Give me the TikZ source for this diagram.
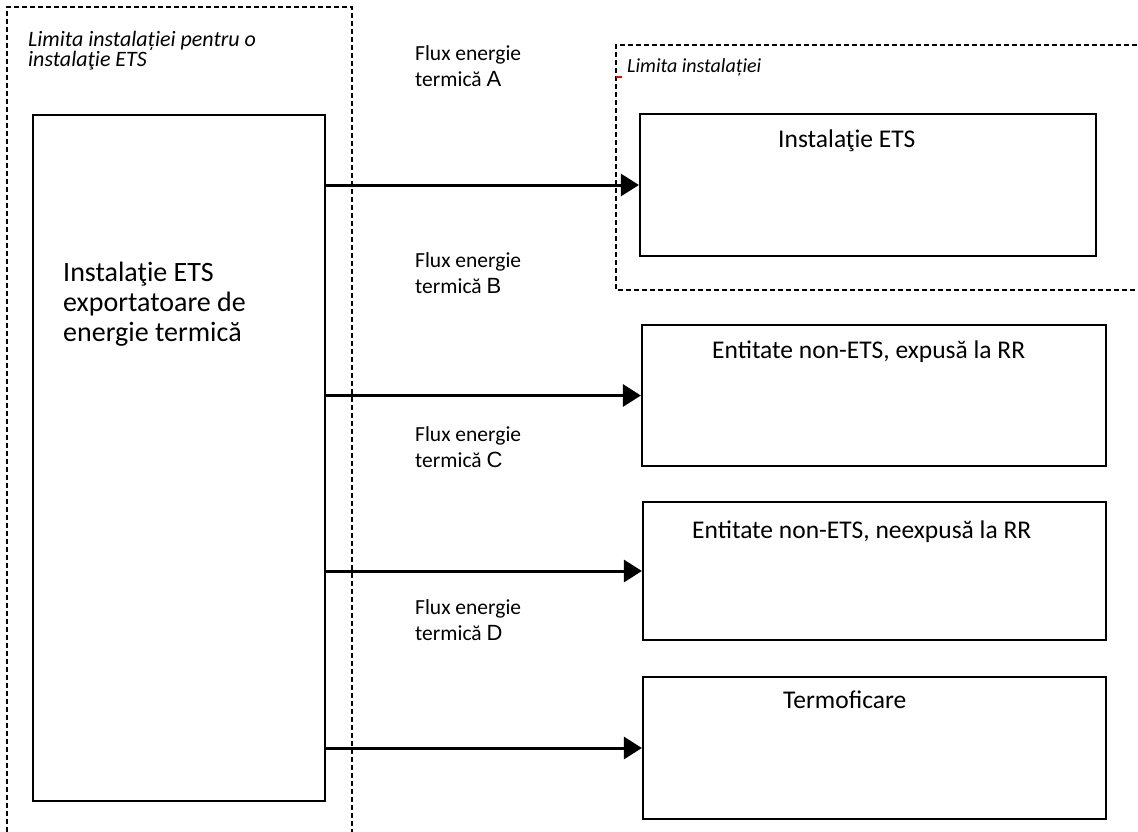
\documentclass[tikz,border=0pt]{standalone}
\usepackage{fontspec}
\setmainfont{Carlito}
\newfontfamily\letterfont{Liberation Sans}
\usetikzlibrary{arrows.meta, positioning}

\begin{document}
\begin{tikzpicture}[x=1pt,y=-1pt,
  unitbox/.style={draw, line width=2.2pt, inner sep=0pt},
  limitline/.style={dash pattern=on 5pt off 3pt, line width=1.6pt},
  flow/.style={line width=3pt, -{Triangle[length=18pt,width=22pt]}},
  boxtext/.style={anchor=base west, inner sep=0pt, font=\fontsize{25.5}{30}\selectfont, align=left},
  fluxtext/.style={anchor=base west, inner sep=0pt, font=\fontsize{21.5}{26}\selectfont, align=left},
  limittext/.style={anchor=base west, inner sep=0pt, font=\fontsize{22}{20}\selectfont\itshape, align=left}
]

\clip (0,0) rectangle (1138,832);

% Draw installation limits
\draw[limitline] (7,840) -- (7,7) -- (352,7) -- (352,840);
\node[limittext] (limA) at (28,67) {Limita instalației pentru o\\instalaţie ETS};
\draw[limitline] (1145,45) -- (616,45) -- (616,290) -- (1145,290);
\node[limittext, font=\fontsize{20}{20}\selectfont\itshape] (limB) at (627,73) {Limita instalației};
\draw[red, line width=1.5pt] (616,77) -- (622,77);

% Draw exporting installation
\node[unitbox, minimum width=292pt, minimum height=686pt] (src) at (179,458) {};
\node[boxtext, font=\fontsize{28}{30}\selectfont] (srctext) at (63,341) {Instalaţie ETS\\exportatoare de\\energie termică};

% Draw receiving boxes
\node[unitbox, minimum width=456pt, minimum height=142pt] (ets) at (868,185) {};
\node[boxtext] at (778,148) {Instalaţie ETS};

\node[unitbox, minimum width=464pt, minimum height=141pt] (exp) at (874,395.5) {};
\node[boxtext] at (712,358) {Entitate non-ETS, expusă la RR};

\node[unitbox, minimum width=463pt, minimum height=138pt] (nexp) at (874.5,571) {};
\node[boxtext] at (692,538) {Entitate non-ETS, neexpusă la RR};

\node[unitbox, minimum width=463pt, minimum height=142pt] (heat) at (874.5,748) {};
\node[boxtext] at (783,708) {Termoficare};

% Draw heat flow arrows
\draw[flow] (ets.west -| src.east) -- (ets.west);
\draw[flow] (exp.west -| src.east) -- (exp.west);
\draw[flow] (nexp.west -| src.east) -- (nexp.west);
\draw[flow] (heat.west -| src.east) -- (heat.west);

% Flow labels
\node[fluxtext] (fluxA) at (415,87) {Flux energie\\termică {\letterfont\fontsize{22}{26}\selectfont A}};
\node[fluxtext] (fluxB) at (415,293) {Flux energie\\termică {\letterfont\fontsize{22}{26}\selectfont B}};
\node[fluxtext] (fluxC) at (415,467) {Flux energie\\termică {\letterfont\fontsize{22}{26}\selectfont C}};
\node[fluxtext] (fluxD) at (415,640) {Flux energie\\termică {\letterfont\fontsize{22}{26}\selectfont D}};

\end{tikzpicture}
\end{document}
